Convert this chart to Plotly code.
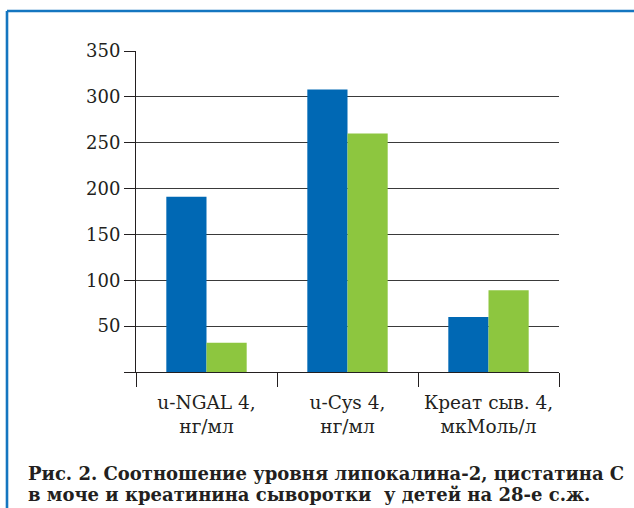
import plotly.graph_objects as go

categories = ["u-NGAL 4,<br>нг/мл", "u-Cys 4,<br>нг/мл", "Креат сыв. 4,<br>мкМоль/л"]
series_blue = [191, 308, 60]
series_green = [32, 260, 89]
ytick_vals = [0, 50, 100, 150, 200, 250, 300, 350]
ytick_text = ["", "50", "100", "150", "200", "250", "300", "350"]
caption_lines = ["Рис. 2. Соотношение уровня липокалина-2, цистатина С",
                 "в моче и креатинина сыворотки  у детей на 28-е с.ж."]

W, H = 634, 508
L, R, T, B = 136, 559, 51, 372

fig = go.Figure()
fig.add_trace(go.Bar(x=categories, y=series_blue, marker=dict(color="#0068b4", line=dict(width=0)), showlegend=False))
fig.add_trace(go.Bar(x=categories, y=series_green, marker=dict(color="#8dc63f", line=dict(width=0)), showlegend=False))

def px(xp):
    return (xp - L) / (R - L)

def py(yp):
    return (B - yp) / (B - T)

font = "DejaVu Serif"
ann = []
for i, line in enumerate(caption_lines):
    ann.append(dict(text="<b>" + line + "</b>", xref="paper", yref="paper",
                    x=px(26), y=py(461 + 20.6 * i), xanchor="left", yanchor="top", align="left",
                    showarrow=False, font=dict(family=font, size=18, color="#231f20")))

fig.update_layout(
    width=W, height=H,
    margin=dict(l=L, r=W - R, t=T, b=H - B, pad=0),
    paper_bgcolor="white", plot_bgcolor="white",
    barmode="group", bargap=0.43, bargroupgap=0,
    font=dict(family=font, size=17, color="#231f20"),
    xaxis=dict(showgrid=False, showline=True, linecolor="#231f20", linewidth=1,
               ticks="outside", ticklen=14, tickcolor="#231f20", tickwidth=1,
               tickson="boundaries", ticklabelstandoff=14,
               tickfont=dict(family=font, size=18.5, color="#231f20"),
               fixedrange=True),
    yaxis=dict(range=[0, 350], tickvals=ytick_vals, ticktext=ytick_text,
               showgrid=True, gridcolor="#3a3a3a", gridwidth=1,
               showline=True, linecolor="#231f20", linewidth=1,
               ticks="outside", ticklen=11, tickcolor="#231f20", tickwidth=1,
               tickfont=dict(family=font, size=18, color="#231f20"),
               zeroline=False, fixedrange=True),
    shapes=[
        dict(type="line", xref="paper", yref="paper", x0=px(7), x1=px(640), y0=py(11), y1=py(11),
             line=dict(color="#1476c0", width=2.6)),
        dict(type="line", xref="paper", yref="paper", x0=px(7), x1=px(7), y0=py(11), y1=py(515),
             line=dict(color="#1476c0", width=2.6)),
    ],
    annotations=ann,
)

fig.write_html("out.html")
